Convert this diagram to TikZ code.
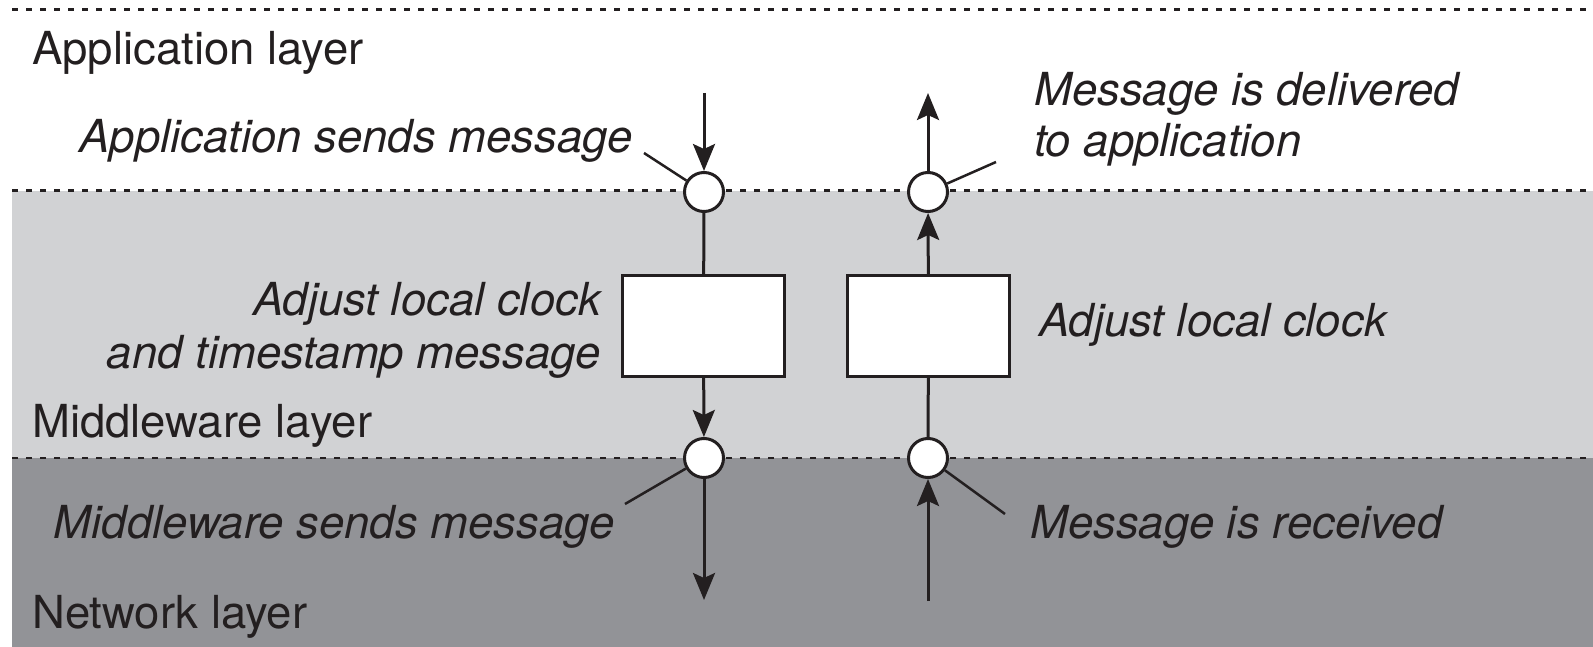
\documentclass[tikz,border=0pt]{standalone}
\usepackage{fontspec}
\setmainfont{TeX Gyre Heros}
\usetikzlibrary{arrows.meta}
\definecolor{ink}{HTML}{231F20}
\definecolor{lightband}{HTML}{D1D2D4}
\definecolor{darkband}{HTML}{929397}
\tikzset{
  lbl/.style={inner sep=0pt, text=ink, font=\fontsize{45.5}{53}\selectfont},
  ilbl/.style={lbl, font=\fontsize{45.5}{53}\selectfont\itshape},
  sep/.style={ink, line width=2.5pt, dash pattern=on 6pt off 8pt},
  circ/.style={circle, draw=ink, fill=white, line width=3pt, minimum size=39pt, inner sep=0pt},
  box/.style={rectangle, draw=ink, fill=white, line width=3pt, minimum width=162pt, minimum height=101pt, inner sep=0pt},
  flow/.style={draw=ink, line width=3pt, -{Stealth[length=27pt, width=22pt, inset=5pt]}},
  plain/.style={draw=ink, line width=3pt},
  leader/.style={draw=ink, line width=2.5pt},
}
\begin{document}
\begin{tikzpicture}[x=1pt, y=-1pt]
\useasboundingbox (0,0) rectangle (1593,647);
\fill[lightband] (12,190.7) rectangle (1593,458);
\fill[darkband] (12,458) rectangle (1593,647);
\draw[sep] (12,9.5) -- (1593,9.5);
\draw[sep] (12,190.7) -- (1593,190.7);
\draw[sep] (12,458) -- (1593,458);

% layer labels
\node[lbl, anchor=base west] (applayer) at (32,65) {Application layer};
\node[lbl, anchor=base west] (midlayer) at (32,437) {Middleware layer};
\node[lbl, anchor=base west] (netlayer) at (32,628) {Network layer};

% nodes
\node[circ] (c1) at (704,192) {};
\node[circ] (c2) at (928,192) {};
\node[circ] (c3) at (704,458) {};
\node[circ] (c4) at (928,458) {};
\node[box] (b1) at (703.5,326) {};
\node[box] (b2) at (928.5,326) {};

\coordinate (inL) at (704,93);
\coordinate (outR) at (928,93);
\coordinate (outL) at (704,600);
\coordinate (inR) at (928,601);

\draw[flow] (inL) -- (c1);
\draw[plain] (c1) -- (b1);
\draw[flow] (b1) -- (c3);
\draw[flow] (c3) -- (outL);

\draw[flow] (inR) -- (c4);
\draw[plain] (c4) -- (b2);
\draw[flow] (b2) -- (c2);
\draw[flow] (c2) -- (outR);

% labels
\node[ilbl, anchor=base east] (t1) at (633,153) {Application sends message};
\node[ilbl, anchor=base west] (t2a) at (1034,106) {Message is delivered};
\node[ilbl, anchor=base west] (t2b) at (1034,157) {to application};
\node[ilbl, anchor=base east] (t3a) at (601,315) {Adjust local clock};
\node[ilbl, anchor=base east] (t3b) at (601,368) {and timestamp message};
\node[ilbl, anchor=base west] (t4) at (1039,336) {Adjust local clock};
\node[ilbl, anchor=base east] (t5) at (615,538) {Middleware sends message};
\node[ilbl, anchor=base west] (t6) at (1030,538) {Message is received};

% leader lines
\coordinate (l1) at (644,153);
\coordinate (l2) at (996,162);
\coordinate (l3) at (625,504);
\coordinate (l4) at (1005,514);
\draw[leader] (l1) -- (c1);
\draw[leader] (l2) -- (c2);
\draw[leader] (l3) -- (c3);
\draw[leader] (l4) -- (c4);
\end{tikzpicture}
\end{document}
